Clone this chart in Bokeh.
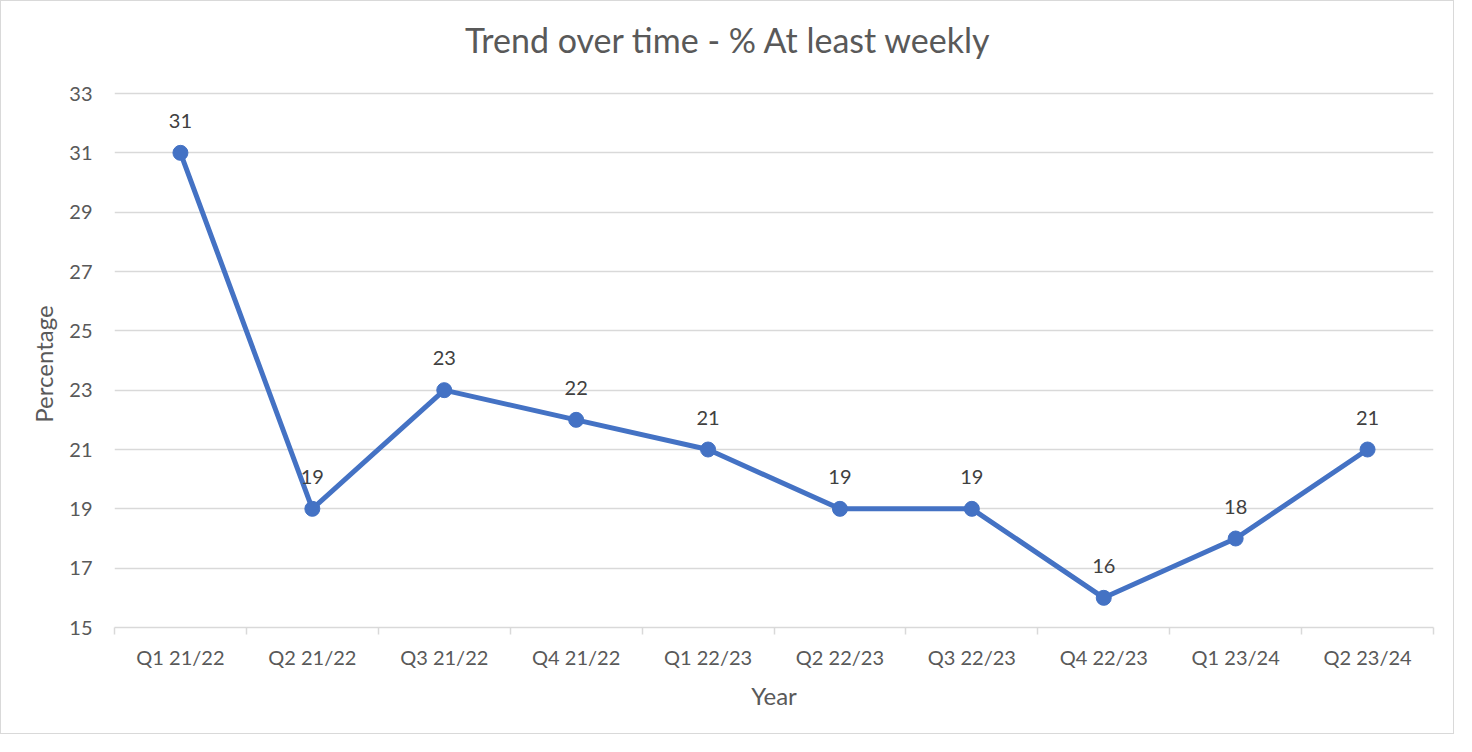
from bokeh.plotting import figure
from bokeh.models import FixedTicker, ColumnDataSource, Range1d
from bokeh.core.properties import value
from bokeh.embed import file_html
from bokeh.resources import INLINE

categories = ["Q1 21/22", "Q2 21/22", "Q3 21/22", "Q4 21/22", "Q1 22/23",
              "Q2 22/23", "Q3 22/23", "Q4 22/23", "Q1 23/24", "Q2 23/24"]
values = [31, 19, 23, 22, 21, 19, 19, 16, 18, 21]
y_ticks = [15, 17, 19, 21, 23, 25, 27, 29, 31, 33]
title_text = "Trend over time - % At least weekly"
y_label = "Percentage"
x_label = "Year"

FONT = "Lato"
xs = [i + 0.5 for i in range(len(categories))]
src = ColumnDataSource(dict(x=xs, y=values, lab=[str(v) for v in values]))

# The frame extends up to the top of the chart so the title can sit inside it;
# the value axis itself only runs 15..33.
Y_TOP = 33 + 92 / (534 / 18)
p = figure(width=1454, height=734, output_backend="svg", toolbar_location=None,
           x_range=Range1d(0, len(categories)), y_range=Range1d(15, Y_TOP),
           min_border_left=113, min_border_right=22, min_border_top=0,
           min_border_bottom=108)
p.styles = {"border": "1px solid #d9d9d9"}
p.outline_line_color = None

# chart title (centred on the whole chart, above the value range)
TITLE_Y = 15 + (635 - 47) / (534 / 18)
TITLE_X = (736 - 122) / 131.9
p.text(x=[TITLE_X], y=[TITLE_Y], text=[title_text], text_align="center",
       text_baseline="middle", text_font=value(FONT), text_font_size="34px",
       text_color="#595959")

p.line("x", "y", source=src, line_color="#4472C4", line_width=5)
p.scatter("x", "y", source=src, size=15, fill_color="#4472C4", line_color="#4472C4")
p.text("x", "y", text="lab", source=src, y_offset=-32, text_align="center",
       text_baseline="middle", text_font=value(FONT), text_font_size="20px",
       text_color="#404040")

p.yaxis.ticker = FixedTicker(ticks=y_ticks)
p.yaxis.axis_line_color = None
p.yaxis.major_tick_line_color = None
p.yaxis.major_tick_out = 0
p.yaxis.major_tick_in = 0
p.yaxis.minor_tick_line_color = None
p.yaxis.major_label_standoff = 22
# trailing wide spaces keep the label centred on the 15..33 value range
p.yaxis.axis_label = y_label + "\u2003\u2003\u2003\u2003\u2002\u2002\u2009"
p.yaxis.axis_label_standoff = 8

p.xaxis.ticker = FixedTicker(ticks=xs, minor_ticks=list(range(len(categories) + 1)))
p.xaxis.major_label_overrides = {x: c for x, c in zip(xs, categories)}
p.xaxis.axis_line_color = "#d9d9d9"
p.xaxis.axis_line_width = 1.5
p.xaxis.major_tick_line_color = None
p.xaxis.major_tick_out = 0
p.xaxis.major_tick_in = 0
p.xaxis.minor_tick_line_color = "#d9d9d9"
p.xaxis.minor_tick_line_width = 1.5
p.xaxis.minor_tick_out = 7
p.xaxis.minor_tick_in = 0
p.xaxis.major_label_standoff = 10
p.xaxis.axis_label = x_label
p.xaxis.axis_label_standoff = 9

for ax in (p.xaxis, p.yaxis):
    ax.major_label_text_font = FONT
    ax.major_label_text_font_size = "20px"
    ax.major_label_text_color = "#595959"
    ax.axis_label_text_font = FONT
    ax.axis_label_text_font_size = "24px"
    ax.axis_label_text_font_style = "normal"
    ax.axis_label_text_color = "#595959"

p.xgrid.grid_line_color = None
p.ygrid.grid_line_color = "#d9d9d9"
p.ygrid.grid_line_width = 1.5
p.ygrid.ticker = FixedTicker(ticks=y_ticks[1:])

open("out.html", "w").write(file_html(p, INLINE))
